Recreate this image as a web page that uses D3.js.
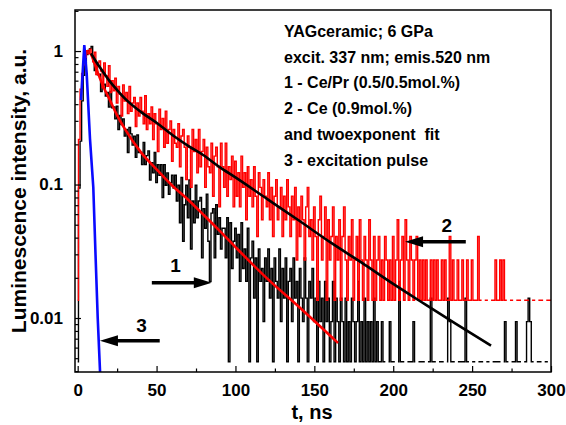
<!DOCTYPE html>
<html>
<head>
<meta charset="utf-8">
<script src="https://cdn.jsdelivr.net/npm/d3@7"></script>
<style>
body { margin: 0; background: #fff; }
text { font-family: Arial, "Liberation Sans", sans-serif; font-weight: bold; fill: #000; }
</style>
</head>
<body>
<svg width="566" height="425"></svg>
<script>
// detector counts per 1 ns bin, t = 0..300 ns
var blackUnit = 0.0047;   // one count of curve 1 after normalisation
var redUnit = 0.0136;     // one count of curve 2 after normalisation

var blackCounts = [
    1, 20, 45, 90, 140, 175, 200, 215, 222, 230,
    185, 152, 169, 141, 143, 106, 118, 120, 98, 104,
    81, 106, 80, 81, 66, 82, 55, 70, 60, 66,
    49, 55, 37, 57, 51, 42, 49, 34, 50, 37,
    37, 30, 44, 30, 35, 38, 23, 31, 26, 37,
    22, 30, 25, 30, 17, 30, 21, 26, 18, 22,
    25, 20, 25, 16, 21, 11, 24, 8, 15, 21,
    12, 23, 7, 16, 11, 21, 12, 16, 17, 6,
    14, 10, 18, 8, 4, 13, 14, 6, 15, 9,
    12, 7, 10, 10, 6, 12, 1, 11, 5, 8,
    10, 6, 9, 4, 11, 5, 7, 4, 10, 1,
    6, 8, 3, 6, 1, 7, 4, 5, 2, 6,
    4, 7, 3, 5, 1, 6, 4, 3, 7, 2,
    5, 3, 6, 1, 4, 5, 2, 6, 3, 4,
    1, 5, 3, 2, 6, 3, 1, 4, 3, 5,
    2, 3, 1, 4, 2, 3, 1, 4, 2, 3,
    1, 2, 4, 1, 3, 2, 1, 3, 2, 1,
    3, 1, 2, 1, 3, 2, 1, 2, 4, 1,
    2, 1, 3, 1, 2, 1, 2, 1, 3, 1,
    2, 1, 1, 2, 1, 1, 0, 1, 2, 1,
    1, 1, 0, 1, 4, 1, 1, 1, 0, 1,
    1, 1, 1, 2, 1, 0, 1, 1, 1, 1,
    1, 0, 1, 1, 3, 1, 1, 1, 0, 1,
    1, 1, 1, 0, 1, 3, 2, 1, 1, 1,
    0, 1, 1, 1, 1, 1, 3, 1, 1, 0,
    1, 1, 1, 0, 1, 1, 1, 1, 0, 1,
    1, 1, 0, 1, 1, 1, 1, 1, 1, 0,
    1, 2, 1, 1, 0, 1, 1, 1, 2, 1,
    1, 1, 0, 1, 1, 2, 3, 2, 1, 1,
    0, 1, 1, 1, 1, 0, 1, 1, 1, 0,
    1
];

var redCounts = [
    1, 16, 38, 50, 58, 66, 74, 70, 76, 68,
    61, 72, 49, 60, 62, 52, 39, 60, 48, 40,
    57, 36, 44, 37, 46, 30, 40, 35, 24, 41,
    31, 36, 25, 40, 26, 30, 33, 20, 30, 24,
    33, 26, 21, 34, 19, 25, 21, 28, 16, 25,
    21, 13, 27, 19, 23, 14, 26, 15, 19, 22,
    11, 19, 15, 14, 21, 10, 17, 19, 14, 8,
    17, 14, 7, 19, 13, 16, 9, 19, 10, 13,
    16, 7, 14, 10, 9, 15, 6, 12, 14, 10,
    5, 15, 10, 7, 15, 6, 10, 8, 12, 5,
    11, 6, 9, 5, 12, 7, 9, 4, 10, 6,
    8, 5, 10, 6, 3, 9, 7, 4, 8, 6,
    5, 9, 4, 7, 3, 6, 8, 4, 5, 7,
    3, 6, 4, 8, 5, 3, 6, 4, 7, 2,
    5, 3, 6, 4, 2, 5, 7, 3, 4, 2,
    5, 3, 1, 4, 6, 2, 3, 5, 1, 4,
    2, 3, 5, 1, 3, 2, 4, 1, 3, 5,
    2, 1, 3, 2, 4, 1, 2, 3, 1, 4,
    2, 1, 3, 2, 1, 4, 2, 1, 3, 1,
    2, 3, 1, 2, 1, 3, 2, 1, 2, 1,
    3, 1, 2, 4, 1, 2, 3, 1, 4, 2,
    1, 3, 2, 1, 2, 3, 1, 2, 1, 2,
    1, 2, 1, 1, 2, 1, 2, 1, 2, 1,
    1, 2, 1, 2, 1, 1, 3, 1, 2, 1,
    1, 2, 1, 1, 2, 1, 1, 2, 1, 1,
    2, 1, 1, 1, 3, 1, 1, 0, 1, 1,
    1, 0, 1, 1, 1, 2, 1, 1, 2, 1,
    2, 1, 1, 0, 1, 1, 1, 0, 1, 1,
    1, 1, 0, 1, 1, 1, 1, 0, 1, 1,
    1, 0, 1, 1, 1, 1, 0, 1, 1, 1,
    1
];

// excitation pulse, [t ns, intensity]
var pulse = [[2.1, 0.43], [4.2, 1.11], [5.7, 0.68], [7.8, 0.22], [9.9, 0.095],
    [11.3, 0.03], [12.7, 0.01], [14.2, 0.0039]];

// two-exponent fits, [t ns, intensity]
var fit1 = [[8.4, 0.96], [12, 0.73], [16, 0.55], [20, 0.44], [25, 0.33], [30, 0.26],
    [40, 0.175], [50, 0.13], [60, 0.098], [70, 0.077], [80, 0.059], [90, 0.045],
    [100, 0.034], [120, 0.0198], [140, 0.0122], [165, 0.0065]];
var fit2 = [[8.5, 0.96], [12, 0.82], [16, 0.70], [20, 0.60], [25, 0.51], [30, 0.44],
    [40, 0.35], [50, 0.29], [60, 0.235], [70, 0.195], [80, 0.165], [90, 0.135],
    [100, 0.113], [120, 0.078], [140, 0.054], [160, 0.037], [180, 0.026],
    [200, 0.018], [220, 0.0127], [240, 0.009], [262, 0.0062]];

var xMajor = [0, 50, 100, 150, 200, 250, 300];
var xMinor = [25, 75, 125, 175, 225, 275];
var yMajor = [0.01, 0.1, 1];
var yMajorLabels = ["0.01", "0.1", "1"];
var yMinor = [0.004, 0.005, 0.006, 0.007, 0.008, 0.009,
    0.02, 0.03, 0.04, 0.05, 0.06, 0.07, 0.08, 0.09,
    0.2, 0.3, 0.4, 0.5, 0.6, 0.7, 0.8, 0.9, 2];

var infoLines = ["YAGceramic; 6 GPa", "excit. 337 nm; emis.520 nm",
    "1 - Ce/Pr (0.5/0.5mol.%)", "2 - Ce (0.9mol.%)",
    "and twoexponent  fit", "3 - excitation pulse"];

// curve markers: label with an arrow, in data units
var markers = [
    {label: "1", lt: 62, lv: 0.0222, from: 47, to: 85, v: 0.0184},
    {label: "2", lt: 234, lv: 0.0443, from: 246, to: 207.5, v: 0.0373},
    {label: "3", lt: 40.5, lv: 0.0079, from: 52, to: 14.1, v: 0.00676}
];

var svg = d3.select("svg");
var plotLeft = 75, plotTop = 10, plotRight = 551, plotBottom = 372;

var x = d3.scaleLinear().domain([-1.7, 300]).range([plotLeft, plotRight]);
var y = d3.scaleLog().domain([0.00394, 2.03]).range([plotBottom, plotTop]);

svg.append("defs").append("clipPath").attr("id", "plot")
    .append("rect").attr("x", plotLeft).attr("y", plotTop)
    .attr("width", plotRight - plotLeft).attr("height", plotBottom - plotTop);

var plot = svg.append("g").attr("clip-path", "url(#plot)");

// zero counts cannot sit on a log axis, so the trace breaks there
function countLine(unit) {
    return d3.line()
        .curve(d3.curveStep)
        .defined(function(d) { return d > 0; })
        .x(function(d, i) { return x(i); })
        .y(function(d) { return y(d * unit); });
}

plot.append("path")
    .attr("d", countLine(blackUnit)(blackCounts))
    .attr("fill", "none")
    .attr("stroke", "#000")
    .attr("stroke-width", 1.4);

plot.append("path")
    .attr("d", countLine(redUnit)(redCounts))
    .attr("fill", "none")
    .attr("stroke", "#ff0000")
    .attr("stroke-width", 1.4);

var curve = d3.line()
    .x(function(d) { return x(d[0]); })
    .y(function(d) { return y(d[1]); });

plot.append("path")
    .attr("d", curve(pulse))
    .attr("fill", "none")
    .attr("stroke", "#0a0aff")
    .attr("stroke-width", 2.6);

var smooth = d3.line()
    .curve(d3.curveMonotoneX)
    .x(function(d) { return x(d[0]); })
    .y(function(d) { return y(d[1]); });

plot.append("path")
    .attr("d", smooth(fit1))
    .attr("fill", "none")
    .attr("stroke", "#ff0000")
    .attr("stroke-width", 2.6);

plot.append("path")
    .attr("d", smooth(fit2))
    .attr("fill", "none")
    .attr("stroke", "#000")
    .attr("stroke-width", 2.6);

// axes, ticks pointing inwards
svg.append("g")
    .attr("transform", "translate(0," + plotBottom + ")")
    .call(d3.axisBottom(x).tickValues(xMajor).tickSizeInner(-6).tickSizeOuter(0).tickPadding(12));
svg.append("g")
    .attr("transform", "translate(0," + plotBottom + ")")
    .call(d3.axisBottom(x).tickValues(xMinor).tickSizeInner(-3.5).tickSizeOuter(0).tickFormat(""));

svg.append("g")
    .attr("transform", "translate(" + plotLeft + ",0)")
    .call(d3.axisLeft(y).tickValues(yMajor)
        .tickFormat(function(d, i) { return yMajorLabels[i]; })
        .tickSizeInner(-6).tickSizeOuter(0).tickPadding(12));
svg.append("g")
    .attr("transform", "translate(" + plotLeft + ",0)")
    .call(d3.axisLeft(y).tickValues(yMinor).tickSizeInner(-3.5).tickSizeOuter(0).tickFormat(""));

svg.selectAll(".domain").remove();
svg.selectAll(".tick line").attr("stroke", "#000").attr("stroke-width", 1.2);
svg.selectAll(".tick text")
    .style("font-size", "17px")
    .style("font-weight", "bold")
    .style("font-family", "Arial, 'Liberation Sans', sans-serif")
    .attr("fill", "#000");

svg.append("rect")
    .attr("x", plotLeft).attr("y", plotTop)
    .attr("width", plotRight - plotLeft).attr("height", plotBottom - plotTop)
    .attr("fill", "none")
    .attr("stroke", "#000")
    .attr("stroke-width", 1.5);

// axis titles
svg.append("text")
    .attr("x", 312)
    .attr("y", 419)
    .attr("text-anchor", "middle")
    .style("font-size", "20px")
    .text("t, ns");

svg.append("text")
    .attr("transform", "translate(25.5,191) rotate(-90)")
    .attr("text-anchor", "middle")
    .style("font-size", "21px")
    .text("Luminescence intensity, a.u.");

// description block
svg.append("g").selectAll("text")
    .data(infoLines)
    .enter().append("text")
    .attr("x", 284)
    .attr("y", function(d, i) { return 36.7 + i * 25.85; })
    .style("font-size", "16px")
    .style("white-space", "pre")
    .text(function(d) { return d; });

// curve labels with arrows
var mk = svg.append("g");
markers.forEach(function(m) {
    var x0 = x(m.from), x1 = x(m.to), yy = y(m.v);
    var dir = x1 > x0 ? 1 : -1;
    var headLen = 18, headW = 5.5;
    mk.append("line")
        .attr("x1", x0).attr("y1", yy)
        .attr("x2", x1 - dir * headLen * 0.8).attr("y2", yy)
        .attr("stroke", "#000")
        .attr("stroke-width", 3.5);
    mk.append("path")
        .attr("d", "M" + x1 + "," + yy +
            "L" + (x1 - dir * headLen) + "," + (yy - headW) +
            "L" + (x1 - dir * headLen) + "," + (yy + headW) + "Z")
        .attr("fill", "#000");
    mk.append("text")
        .attr("x", x(m.lt))
        .attr("y", y(m.lv))
        .attr("text-anchor", "middle")
        .style("font-size", "19px")
        .text(m.label);
});
</script>
</body>
</html>
